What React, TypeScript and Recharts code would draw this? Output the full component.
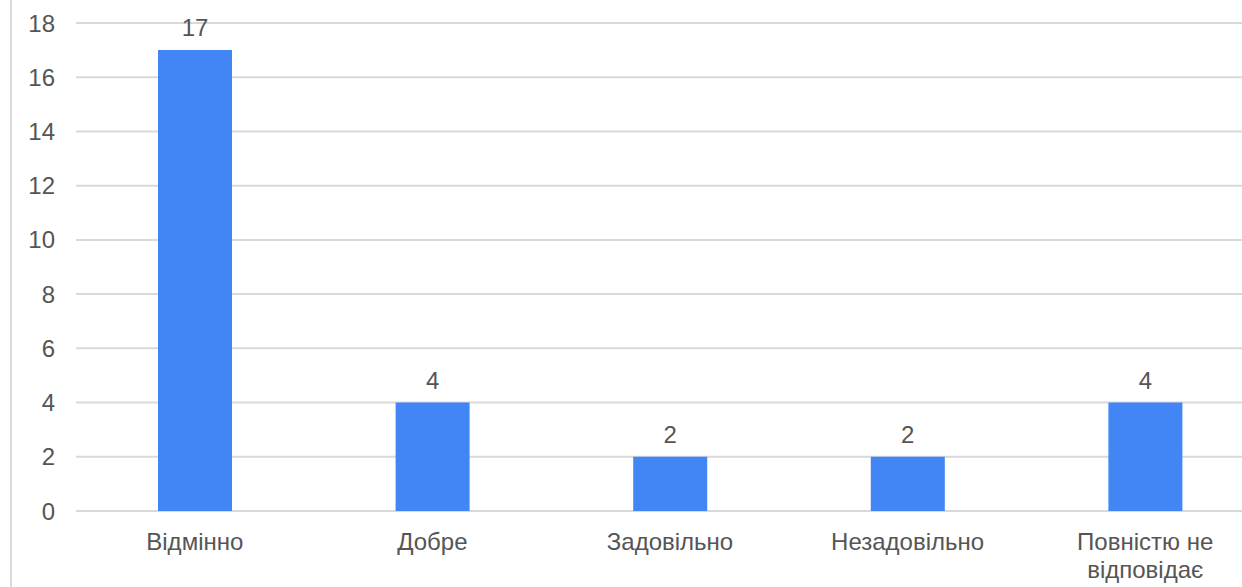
import { Bar, BarChart, CartesianGrid, LabelList, XAxis, YAxis } from "recharts";

const categories = ["Відмінно", "Добре", "Задовільно", "Незадовільно", "Повністю не відповідає"];
const counts = [17, 4, 2, 2, 4];
const yTicks = [0, 2, 4, 6, 8, 10, 12, 14, 16, 18];

const FONT = "'Liberation Sans', Arial, sans-serif";
const TEXT = "#555555";
const FONT_SIZE = 24;

function splitLabel(label: string): string[] {
  const words = label.split(" ");
  const lines: string[] = [];
  let cur = "";
  for (const w of words) {
    const next = cur ? cur + " " + w : w;
    if (next.length > 12 && cur) {
      lines.push(cur);
      cur = w;
    } else {
      cur = next;
    }
  }
  if (cur) lines.push(cur);
  return lines;
}

function CategoryTick(props: any) {
  const { x, y, payload } = props;
  const lines = splitLabel(String(payload.value));
  return (
    <text x={x} y={y} textAnchor="middle" fill={TEXT} fontSize={FONT_SIZE} fontFamily={FONT}>
      {lines.map((line, i) => (
        <tspan key={i} x={x} dy={i === 0 ? "0.71em" : 28}>
          {line}
        </tspan>
      ))}
    </text>
  );
}

export default function App() {
  const data = categories.map((name, i) => ({ name, value: counts[i] }));

  return (
    <div
      style={{
        position: "fixed",
        top: 0,
        left: 0,
        width: 1242,
        height: 587,
        overflow: "hidden",
        background: "#ffffff",
      }}
    >
      <div style={{ position: "absolute", left: 10, top: 0, width: 2, height: 587, background: "#dadada" }} />
      <BarChart
        width={1270}
        height={587}
        data={data}
        margin={{ top: 23, right: 6, bottom: 0, left: 0 }}
      >
        <CartesianGrid vertical={false} stroke="#d9d9d9" strokeWidth={2} />
        <XAxis
          dataKey="name"
          height={76}
          axisLine={false}
          tickLine={false}
          tickMargin={16}
          interval={0}
          tick={<CategoryTick />}
        />
        <YAxis
          width={76}
          domain={[0, 18]}
          ticks={yTicks}
          axisLine={false}
          tickLine={false}
          tickMargin={15}
          tick={{ fill: TEXT, fontSize: FONT_SIZE, fontFamily: FONT }}
        />
        <Bar dataKey="value" fill="#4285f4" barSize={74} isAnimationActive={false}>
          <LabelList
            dataKey="value"
            position="top"
            offset={14}
            fill={TEXT}
            fontSize={FONT_SIZE}
            fontFamily={FONT}
          />
        </Bar>
      </BarChart>
    </div>
  );
}
